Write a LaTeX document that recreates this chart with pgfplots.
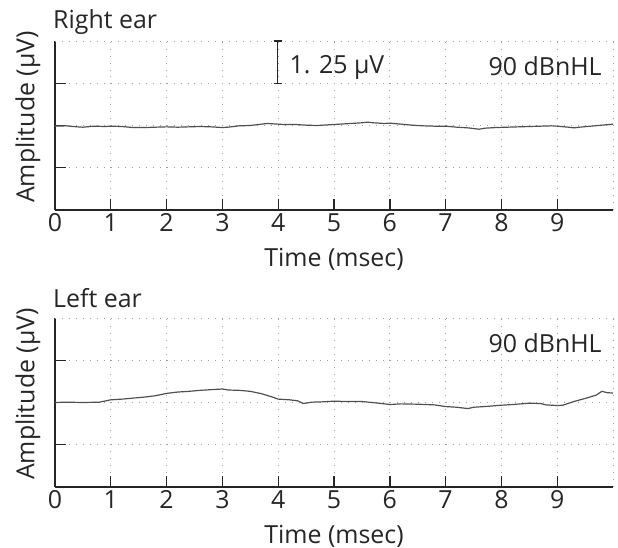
\documentclass[border=0pt]{standalone}
\usepackage{fontspec}
\setmainfont{Open Sans}
\usepackage{pgfplots}
\pgfplotsset{compat=1.18}

\definecolor{trace}{HTML}{505050}
\definecolor{gridc}{HTML}{A0A0A0}
\definecolor{ink}{HTML}{262626}

\newcommand{\bigf}{\fontsize{25}{29}\selectfont}

\pgfplotsset{
  abr/.style={
    scale only axis,
    width=558bp, height=169bp,
    xmin=0, xmax=10, ymin=-2.5, ymax=2.5,
    axis x line*=bottom, axis y line*=left,
    axis line style={ink, line width=1.4pt},
    xtick={0,...,9}, ytick={-1.25,0,1.25},
    extra x ticks={10}, extra y ticks={2.5},
    extra tick style={major tick length=0pt, xticklabel={}, yticklabel={}},
    yticklabels={},
    tick align=inside, major tick length=11bp,
    tick style={ink, line width=1.4pt},
    xmajorgrids, ymajorgrids,
    grid style={gridc, line width=1pt, dash pattern=on 1pt off 6pt},
    /pgf/number format/assume math mode=true,
    ticklabel style={font=\bigf, text=ink, inner sep=3.5bp},
    label style={font=\bigf, text=ink},
    xlabel={Time (msec)},
    ylabel={Amplitude (µV)},
    xlabel style={at={(axis description cs:0.5,0)}, anchor=center, yshift=-49bp},
    ylabel style={at={(axis description cs:0,0.55)}, anchor=center, yshift=27bp},
    clip=false,
  }
}

\begin{document}
\begin{tikzpicture}[x=1bp,y=1bp]
\useasboundingbox (0,0) rectangle (618,-548);

\begin{axis}[abr, at={(55bp,-210bp)}, anchor=south west]
  \addplot [trace, line width=1.2pt] table {
    x y
    0 -0.02
    0.2 -0.01
    0.4 -0.04
    0.5 -0.05
    0.7 -0.02
    0.9 -0.03
    1.0 -0.02
    1.2 -0.03
    1.4 -0.06
    1.6 -0.06
    1.8 -0.05
    2.0 -0.04
    2.2 -0.05
    2.4 -0.04
    2.6 -0.03
    2.8 -0.04
    3.0 -0.06
    3.1 -0.05
    3.3 -0.01
    3.5 0.00
    3.7 0.04
    3.8 0.06
    3.9 0.05
    4.1 0.03
    4.3 0.03
    4.5 0.01
    4.7 0.00
    4.9 0.02
    5.1 0.04
    5.3 0.06
    5.5 0.08
    5.6 0.10
    5.7 0.08
    5.9 0.06
    6.0 0.07
    6.2 0.04
    6.4 0.01
    6.6 -0.01
    6.8 -0.02
    7.0 -0.02
    7.2 -0.05
    7.4 -0.07
    7.6 -0.11
    7.7 -0.08
    7.9 -0.06
    8.1 -0.05
    8.3 -0.04
    8.5 -0.03
    8.7 -0.02
    8.9 -0.01
    9.0 -0.02
    9.2 -0.05
    9.3 -0.07
    9.4 -0.05
    9.6 -0.02
    9.8 0.01
    10.0 0.04
  };
  % scale bar
  \draw [ink, line width=1.4pt]
    (axis cs:3.99,1.25) -- (axis cs:3.99,2.5)
    (axis cs:3.92,1.25) -- (axis cs:4.06,1.25)
    (axis cs:3.92,2.5) -- (axis cs:4.06,2.5);
  \node [anchor=base west, inner sep=0pt, font=\bigf, text=ink]
    at (axis cs:4.2,1.55) {1. 25 µV};
  \node [anchor=base east, inner sep=0pt, font=\bigf, text=ink]
    at (axis cs:9.8,1.49) {90 dBnHL};
  \node [anchor=base west, inner sep=0pt, font=\bigf, text=ink]
    at (rel axis cs:0,1) [xshift=-2bp, yshift=12bp] {Right ear};
\end{axis}

\begin{axis}[abr, at={(55bp,-487bp)}, anchor=south west]
  \addplot [trace, line width=1.2pt] table {
    x y
    0 0.00
    0.2 0.01
    0.5 0.00
    0.8 0.01
    1.0 0.08
    1.2 0.10
    1.4 0.13
    1.6 0.16
    1.8 0.20
    2.0 0.27
    2.2 0.31
    2.4 0.33
    2.6 0.36
    2.8 0.38
    3.0 0.40
    3.1 0.37
    3.3 0.36
    3.5 0.33
    3.7 0.26
    3.9 0.16
    4.0 0.10
    4.2 0.08
    4.35 0.05
    4.45 -0.03
    4.6 0.01
    4.8 0.02
    5.0 0.04
    5.2 0.03
    5.5 0.03
    5.8 -0.02
    6.0 -0.06
    6.2 -0.04
    6.5 -0.05
    6.8 -0.07
    7.0 -0.12
    7.2 -0.14
    7.4 -0.18
    7.5 -0.14
    7.7 -0.12
    8.0 -0.08
    8.2 -0.06
    8.5 -0.02
    8.7 -0.03
    8.8 -0.07
    9.0 -0.09
    9.1 -0.08
    9.3 0.03
    9.5 0.12
    9.7 0.22
    9.8 0.33
    9.9 0.29
    10.0 0.28
  };
  \node [anchor=base east, inner sep=0pt, font=\bigf, text=ink]
    at (axis cs:9.8,1.47) {90 dBnHL};
  \node [anchor=base west, inner sep=0pt, font=\bigf, text=ink]
    at (rel axis cs:0,1) [xshift=-2bp, yshift=11bp] {Left ear};
\end{axis}
\end{tikzpicture}
\end{document}
